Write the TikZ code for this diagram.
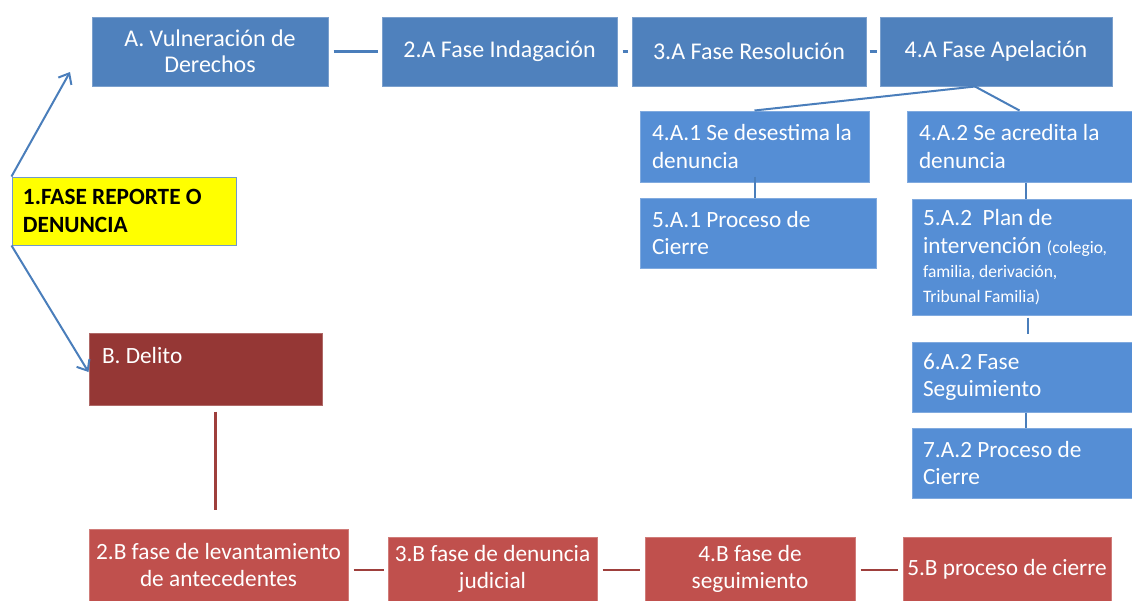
\documentclass[tikz,border=0pt]{standalone}
\usepackage{fontspec}
\setmainfont{Carlito}
\usetikzlibrary{arrows.meta}
\definecolor{topblue}{HTML}{4F81BD}
\definecolor{subblue}{HTML}{558ED5}
\definecolor{bdark}{HTML}{953735}
\definecolor{bred}{HTML}{C0504D}
\definecolor{lineblue}{HTML}{4A7EBB}
\definecolor{linered}{HTML}{9E3F3C}
\definecolor{yel}{HTML}{FFFF00}
\newcommand{\smalltxt}{\fontsize{17.5}{24}\selectfont}
\begin{document}
\begin{tikzpicture}[x=1pt,y=-1pt,
  box/.style={rectangle, inner ysep=0pt, font=\fontsize{23.3}{27.5}\selectfont, text=white, line width=1pt},
  topbox/.style={box, fill=topblue, draw=topblue!75!white, align=center, inner xsep=4pt, font=\fontsize{24}{26.5}\selectfont},
  subbox/.style={box, fill=subblue, draw=subblue!75!white, align=flush left, inner xsep=12pt},
  yelbox/.style={box, fill=yel, draw=topblue!80!white, text=black, align=flush left, inner xsep=11pt, font=\fontsize{23.3}{28}\selectfont\bfseries},
  delbox/.style={box, fill=bdark, draw=bdark!75!white, align=flush left, inner xsep=13pt},
  redbox/.style={box, fill=bred, draw=bred!75!white, align=flush center, inner xsep=1pt, font=\fontsize{23.3}{26.5}\selectfont},
  bconn/.style={draw=lineblue, line width=2.5pt},
  rconn/.style={draw=linered, line width=2.5pt},
  arr/.style={draw=lineblue, line width=2pt, -{Straight Barb[length=9pt,width=15pt,line width=2pt]}}
]
\useasboundingbox (0,0) rectangle (1132,600);

% top row
\node[topbox, minimum width=236, minimum height=69] (A) at (210,51.5) {A. Vulneración de\\Derechos};
\node[topbox, minimum width=235, minimum height=69] (a2) at (499.5,51.5) {2.A Fase Indagación};
\node[topbox, minimum width=234, minimum height=69] (a3) at (749,51.5) {3.A Fase Resolución};
\node[topbox, minimum width=232, minimum height=69] (a4) at (996,51.5) {4.A Fase Apelación};

% sub boxes
\node[subbox, text width=205, minimum height=71] (a41) at (754.5,146.5) {4.A.1~Se~desestima~la\\denuncia};
\node[subbox, text width=201, minimum height=71] (a42) at (1019.5,146.5) {4.A.2~Se~acredita~la\\denuncia};
\node[subbox, text width=212, minimum height=70] (a51) at (758,233) {5.A.1~Proceso~de\\Cierre};
\node[subbox, inner xsep=11pt, text width=198, minimum height=116] (a52) at (1022,257)
  {5.A.2~~Plan~de\\intervención~{\smalltxt(colegio,}\\[-3pt]{\smalltxt familia,~derivación,}\\[-3pt]{\smalltxt Tribunal~Familia)}};
\node[subbox, inner xsep=11pt, text width=198, minimum height=70] (a62) at (1022,377) {6.A.2~Fase\\Seguimiento};
\node[subbox, inner xsep=11pt, text width=198, minimum height=70] (a72) at (1022,463) {7.A.2~Proceso~de\\Cierre};

% yellow
\node[yelbox, text width=202, minimum height=68] (f1) at (124,211) {1.FASE~REPORTE~O\\DENUNCIA};

% delito branch
\node[delbox, text width=207, minimum height=72] (b) at (205.5,369) {B.~Delito\\\mbox{}};
\node[redbox, text width=257, minimum height=72] (b2) at (218.5,565) {2.B~fase~de~levantamiento\\de~antecedentes};
\node[redbox, text width=207, minimum height=64] (b3) at (492.5,569) {3.B~fase~de~denuncia\\judicial};
\node[redbox, text width=208, minimum height=64] (b4) at (750,569) {4.B~fase~de\\seguimiento};
\node[redbox, text width=206, minimum height=64] (b5) at (1007,569) {5.B~proceso~de~cierre};

% connectors top
\draw[bconn, shorten <=5pt, shorten >=4pt] (A.east) -- (a2.west);
\draw[bconn, shorten <=5pt, shorten >=4pt] (a2.east) -- (a3.west);
\draw[bconn, shorten <=3pt, shorten >=3pt] (a3.east) -- (a4.west);
\coordinate (a4s) at ([xshift=-21pt]a4.south);
\draw[bconn, line width=2pt] (a4s) -- (a41.north);
\draw[bconn, line width=2pt] (a4s) -- (a42.north);
\draw[bconn, line width=2pt, shorten <=-6pt] (a41.south) -- (a41.south |- a51.north);
\draw[bconn, line width=2pt] ([xshift=4pt]a52.north) -- ([xshift=4pt]a52.north |- a42.south);
\draw[bconn, line width=2pt, shorten <=2pt, shorten >=8pt] ([xshift=6pt]a52.south) -- ([xshift=6pt]a52.south |- a62.north);
\draw[bconn, line width=2pt] ([xshift=4pt]a62.south) -- ([xshift=4pt]a62.south |- a72.north);

% arrows from yellow
\coordinate (tipA) at (70,72);
\draw[arr] (f1.north west) -- (tipA);
\draw[arr] (f1.south west) -- ([yshift=-3pt]b.west);

% delito connectors
\draw[rconn, shorten <=6pt, shorten >=19pt] ([xshift=-3pt]b2.north |- b.south) -- ([xshift=-3pt]b2.north);
\draw[rconn, shorten <=5pt, shorten >=4pt] ([yshift=-1pt]b3.west -| b2.east) -- ([yshift=-1pt]b3.west);
\draw[rconn, shorten <=5pt, shorten >=5pt] ([yshift=-1pt]b3.east) -- ([yshift=-1pt]b4.west);
\draw[rconn, shorten <=5pt, shorten >=5pt] ([yshift=-1pt]b4.east) -- ([yshift=-1pt]b5.west);
\end{tikzpicture}
\end{document}
